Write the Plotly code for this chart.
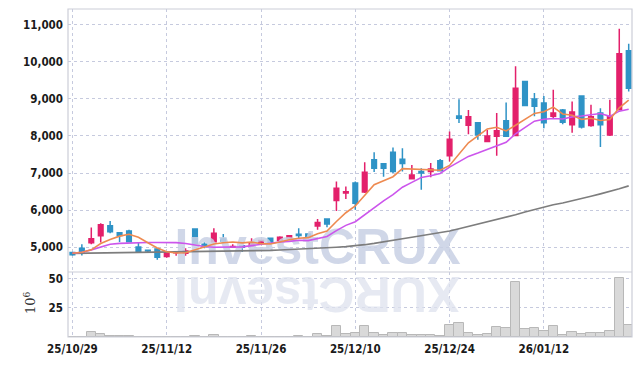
import subprocess
import plotly.graph_objects as go

dates = ["25/10/29","25/10/30","25/10/31","25/11/03","25/11/04","25/11/05","25/11/06","25/11/07","25/11/10","25/11/11",
         "25/11/12","25/11/13","25/11/14","25/11/17","25/11/18","25/11/19","25/11/20","25/11/21","25/11/24","25/11/25",
         "25/11/26","25/11/27","25/11/28","25/12/01","25/12/02","25/12/03","25/12/04","25/12/05","25/12/08","25/12/09",
         "25/12/10","25/12/11","25/12/12","25/12/15","25/12/16","25/12/17","25/12/18","25/12/19","25/12/22","25/12/23",
         "25/12/24","25/12/26","25/12/29","25/12/30","26/01/02","26/01/05","26/01/06","26/01/07","26/01/08","26/01/09",
         "26/01/12","26/01/13","26/01/14","26/01/15","26/01/16","26/01/19","26/01/20","26/01/21","26/01/22","26/01/23"]

open_ = [4860,4975,5120,5310,5580,5390,5440,5010,4920,4950,
         4750,4850,4840,5490,5080,5150,5220,5000,5040,5035,
         5110,5240,5180,5250,5350,5360,5575,5760,6260,6460,
         6730,6490,7360,7250,7560,7370,6845,7040,7040,7330,
         7470,8540,8290,8360,7850,7990,8410,8010,9470,9000,
         8890,8530,8700,8300,9080,8280,8620,8030,8710,10300]
high = [4880,5080,5530,5650,5710,5410,5470,5120,4930,4980,
        4870,4880,4970,5500,5135,5510,5360,5080,5060,5240,
        5200,5250,5300,5330,5510,5370,5760,5770,6770,6640,
        6770,7290,7560,7270,7690,7670,7220,7130,7270,7380,
        8120,8990,8700,8370,8160,8620,8900,9880,9490,9160,
        9080,9250,8730,8930,9090,8840,8750,8980,10890,10490]
low = [4770,4780,5080,5130,5380,5140,5130,4850,4850,4660,
       4720,4770,4770,5100,4975,5135,5110,4980,4870,5030,
       5090,5120,5160,5230,5240,5260,5470,5540,5980,6300,
       6010,6460,7030,6900,7000,7040,6830,6550,6890,7040,
       7310,8350,8050,7900,7830,7470,7970,7990,8800,8530,
       8210,8480,8320,8090,8200,8250,7700,8000,8690,9200]
close = [4800,4840,5230,5610,5420,5320,5150,4870,4900,4730,
         4860,4870,4900,5110,5020,5380,5170,5020,5000,5125,
         5180,5125,5270,5310,5320,5270,5665,5630,6590,6500,
         6190,7020,7130,7130,7040,7260,6950,7000,7110,7060,
         7915,8480,8520,8030,8000,8140,7990,9290,8820,8800,
         8360,8620,8370,8650,8240,8520,8300,8520,10220,9290]
volume_m = [0.3,0.3,4.3,2.6,1.1,0.9,0.9,0.2,0.2,0.2,
            0.2,0.2,0.2,0.9,0.2,1.7,0.2,0.2,0.2,0.9,
            0.2,0.2,0.2,0.2,0.9,0.2,2.4,1.1,9.5,2.9,
            3.7,9.5,3.7,2.0,3.7,3.7,1.7,1.7,1.7,1.1,
            10.6,12.4,3.7,2.0,2.9,8.6,7.8,47.4,6.9,8.0,
            4.9,9.5,1.7,4.3,2.9,3.7,3.7,5.5,50.9,10.3]
ma_short = [4840,4865,4930,5100,5210,5300,5350,5270,5120,4980,
            4880,4846,4852,4930,5010,5090,5120,5140,5118,5139,
            5099,5090,5140,5202,5241,5259,5367,5439,5695,5931,
            6115,6386,6686,6794,6902,7120,7110,7080,7074,7078,
            7207,7513,7817,8001,8189,8234,8136,8290,8448,8608,
            8652,8778,8594,8560,8448,8480,8416,8446,8760,8970]
ma_mid = [4840,4865,4930,5015,5080,5105,5120,5125,5130,5130,
          5130,5125,5100,5060,5020,5000,5000,5000,5010,5045,
          5080,5100,5140,5160,5190,5180,5230,5290,5450,5590,
          5690,5880,6060,6250,6420,6620,6750,6880,6930,6990,
          7160,7310,7450,7540,7640,7730,7830,8060,8230,8400,
          8450,8470,8460,8515,8540,8575,8605,8530,8670,8720]
ma_long = [4835,4838,4841,4844,4847,4850,4854,4858,4862,4866,
           4870,4873,4876,4879,4882,4885,4889,4893,4897,4901,
           4905,4915,4925,4935,4945,4955,4970,4985,5000,5017,
           5035,5070,5105,5140,5185,5230,5270,5310,5350,5395,
           5440,5500,5560,5620,5680,5740,5805,5875,5950,6020,
           6090,6145,6195,6250,6310,6375,6440,6500,6575,6655]
tick_labels = ["25/10/29","25/11/12","25/11/26","25/12/10","25/12/24","26/01/12"]
price_ticks = [5000,6000,7000,8000,9000,10000,11000]
volume_ticks = [25,50]
watermark = "InvestCRUX"

idx = list(range(len(dates)))
tick_pos = [dates.index(t) for t in tick_labels]

try:
    fams = subprocess.run(["fc-list", ":", "family"], capture_output=True, text=True).stdout
except Exception:
    fams = ""
if "Liberation Sans Narrow" in fams:
    TICKFONT = dict(family="Liberation Sans Narrow", size=14, color="#1a1a1a", weight="bold")
elif "DejaVu Sans Condensed" in fams:
    TICKFONT = dict(family="DejaVu Sans Condensed", size=11.5, color="#1a1a1a", weight="bold")
else:
    TICKFONT = dict(family="Roboto", size=12, color="#1a1a1a", weight=500)

UP = "#E3206B"
DOWN = "#2F93C6"
GRID = "rgb(198,202,222)"
BORDER = "rgb(204,206,216)"
WM_FONT = "Liberation Sans, Arial, sans-serif"
WM_SIZE = 50

L, R, T, B = 68, 10, 9, 29
W = 642 - L - R
H = 366 - T - B
vol_frac = 65 / H

fig = go.Figure()

# watermark (behind data)
fig.add_trace(go.Scatter(x=[26.0], y=[4880], mode="text", text=[watermark],
                         textfont=dict(family=WM_FONT, size=WM_SIZE,
                                       color="rgba(200,208,228,0.85)", weight="bold"),
                         textposition="middle center", hoverinfo="skip", showlegend=False,
                         xaxis="x", yaxis="y", cliponaxis=False))

fig.add_trace(go.Bar(x=idx, y=volume_m, xaxis="x", yaxis="y2",
                     marker=dict(color="#d9d9d9", line=dict(color="#b8b8b8", width=1)),
                     showlegend=False, hoverinfo="skip"))

fig.add_trace(go.Candlestick(x=idx, open=open_, high=high, low=low, close=close,
                             increasing=dict(line=dict(color=UP, width=1.5), fillcolor=UP),
                             decreasing=dict(line=dict(color=DOWN, width=1.5), fillcolor=DOWN),
                             whiskerwidth=0, showlegend=False, xaxis="x", yaxis="y"))

fig.add_trace(go.Scatter(x=idx, y=ma_long, mode="lines", line=dict(color="#7d7d7d", width=1.6),
                         showlegend=False, xaxis="x", yaxis="y"))
fig.add_trace(go.Scatter(x=idx, y=ma_mid, mode="lines", line=dict(color="#CC55EC", width=1.6),
                         showlegend=False, xaxis="x", yaxis="y"))
fig.add_trace(go.Scatter(x=idx, y=ma_short, mode="lines", line=dict(color="#EE8A50", width=1.6),
                         showlegend=False, xaxis="x", yaxis="y"))

fig.update_layout(
    width=642, height=366,
    margin=dict(l=L, r=R, t=T, b=B, autoexpand=False),
    paper_bgcolor="white", plot_bgcolor="white",
    bargap=0, boxgap=0.3,
    showlegend=False,
    xaxis=dict(type="linear", range=[-0.47, 59.35], anchor="y2", automargin=False,
               tickvals=tick_pos, ticktext=tick_labels, tickfont=TICKFONT,
               showgrid=True, gridcolor=GRID, griddash="dot", gridwidth=1,
               zeroline=False, showline=False, ticks="", ticklabelstandoff=3,
               rangeslider=dict(visible=False)),
    yaxis=dict(domain=[vol_frac, 1], range=[4333, 11424], tickvals=price_ticks, automargin=False,
               tickformat=",d", tickfont=TICKFONT, showgrid=True, gridcolor=GRID,
               griddash="dot", zeroline=False, showline=False, ticks="", ticklabelstandoff=4),
    yaxis2=dict(domain=[0, vol_frac], range=[0, 56], tickvals=volume_ticks, automargin=False,
                tickfont=TICKFONT, showgrid=True, gridcolor=GRID, griddash="dot",
                zeroline=False, showline=False, ticks="", ticklabelstandoff=4),
    shapes=[
        dict(type="rect", xref="paper", yref="paper", x0=0, x1=1, y0=0, y1=1,
             line=dict(color=BORDER, width=1.2), layer="above"),
        dict(type="line", xref="paper", yref="paper", x0=0, x1=1, y0=vol_frac, y1=vol_frac,
             line=dict(color=BORDER, width=1.2), layer="above"),
    ],
    annotations=[
        # reflection: reversed string turned 180 degrees reads in original order, upside down
        dict(text=watermark[::-1], xref="x", yref="paper", x=26.0, y=(337 - 294) / H,
             xanchor="center", yanchor="middle", textangle=180, showarrow=False,
             font=dict(family=WM_FONT, size=WM_SIZE,
                       color="rgba(222,226,238,0.75)", weight="bold")),
        dict(text="10<sup>6</sup>", xref="paper", yref="paper", x=(30 - L) / W, y=(337 - 303) / H,
             xanchor="center", yanchor="middle", textangle=-90, showarrow=False,
             font=dict(family="DejaVu Serif, serif", size=13, color="#333")),
    ],
)

fig.write_html("out.html", config={"displayModeBar": False},
               post_script="document.body.style.margin='0';document.body.style.overflow='hidden';")
